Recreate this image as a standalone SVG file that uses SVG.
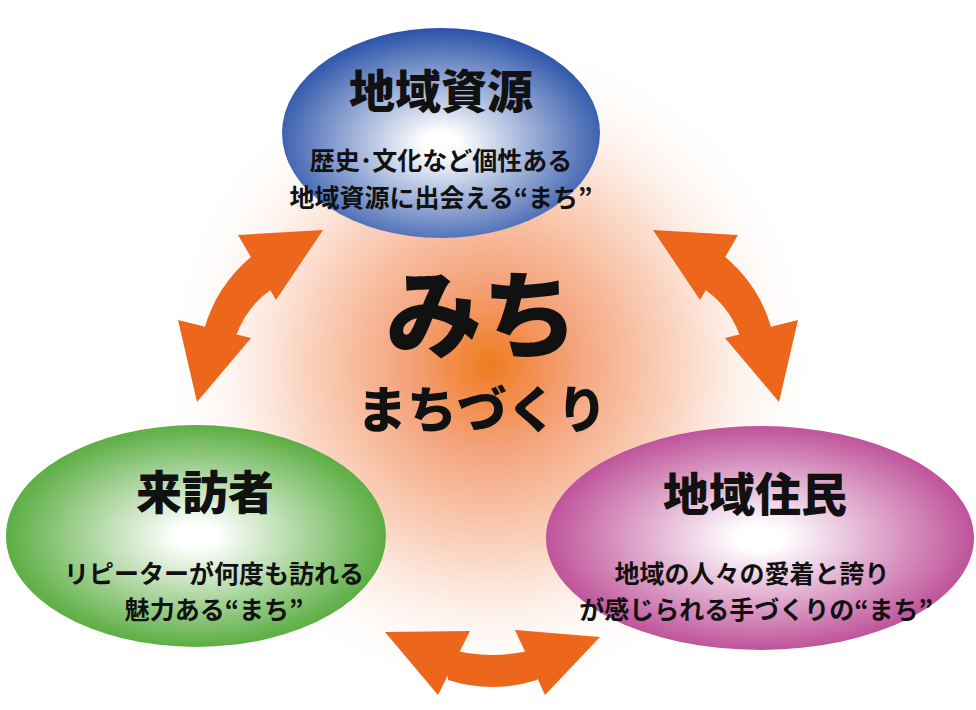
<svg xmlns="http://www.w3.org/2000/svg" width="976" height="710" viewBox="0 0 976 710">
<defs>
<radialGradient id="bg" cx="490" cy="365" r="330" gradientUnits="userSpaceOnUse">
<stop offset="0" stop-color="#f07a20"/><stop offset="0.25" stop-color="#f4a27a"/><stop offset="0.6" stop-color="#fbd9c8"/><stop offset="1" stop-color="#fff" stop-opacity="0"/></radialGradient>
<radialGradient id="gb" cx="0.5" cy="0.55" r="0.55"><stop offset="0.1" stop-color="#fff"/><stop offset="1" stop-color="#2a52a8"/></radialGradient>
<radialGradient id="gg" cx="0.5" cy="0.5" r="0.55"><stop offset="0.1" stop-color="#fff"/><stop offset="1" stop-color="#4aa52e"/></radialGradient>
<radialGradient id="gm" cx="0.5" cy="0.5" r="0.55"><stop offset="0.1" stop-color="#fff"/><stop offset="1" stop-color="#b8408f"/></radialGradient>
</defs>
<style>
text{font-family:"Noto Sans CJK JP",sans-serif;text-anchor:middle;fill:#111}
.t{font-size:46px;font-weight:900}
.s{font-size:25px;font-weight:700}
.a{fill:#ec661c}
</style>
<rect width="976" height="710" fill="#fff"/>
<ellipse cx="490" cy="365" rx="340" ry="340" fill="url(#bg)"/>
<g id="connectors">
<g class="a">
<path d="M252,256 Q216,286 204,330 L236,336 Q248,302 280,284 Z"/>
<polygon points="238,235 323,230 276,300"/>
<polygon points="178,320 251,338 197,402"/>
</g>
<g class="a" transform="translate(976,0) scale(-1,1)">
<path d="M252,256 Q216,286 204,330 L236,336 Q248,302 280,284 Z"/>
<polygon points="238,235 323,230 276,300"/>
<polygon points="178,320 251,338 197,402"/>
</g>
<g class="a">
<path d="M445,648 Q492,662 540,648 L537,680 Q492,694 448,680 Z"/>
<polygon points="385,632 470,631 438,695"/>
<polygon points="515,630 600,637 545,695"/>
</g>
</g>
<g id="center">
<text x="482" y="350" style="font-size:96px;font-weight:900">みち</text>
<text x="482" y="428" style="font-size:50px;font-weight:900">まちづくり</text>
</g>
<g id="top">
<ellipse cx="441" cy="133" rx="159" ry="105" fill="url(#gb)"/>
<text class="t" x="441" y="108">地域資源</text>
<text class="s" x="441" y="170">歴史･文化など個性ある</text>
<text class="s" x="441" y="207">地域資源に出会える“まち”</text>
</g>
<g id="left">
<ellipse cx="196" cy="536" rx="190" ry="111" fill="url(#gg)"/>
<text class="t" x="205" y="509">来訪者</text>
<text class="s" x="214" y="583">リピーターが何度も訪れる</text>
<text class="s" x="214" y="619">魅力ある“まち”</text>
</g>
<g id="right">
<ellipse cx="760" cy="538" rx="214" ry="112" fill="url(#gm)"/>
<text class="t" x="755" y="511">地域住民</text>
<text class="s" x="752" y="583">地域の人々の愛着と誇り</text>
<text class="s" x="756" y="619">が感じられる手づくりの“まち”</text>
</g>
</svg>
